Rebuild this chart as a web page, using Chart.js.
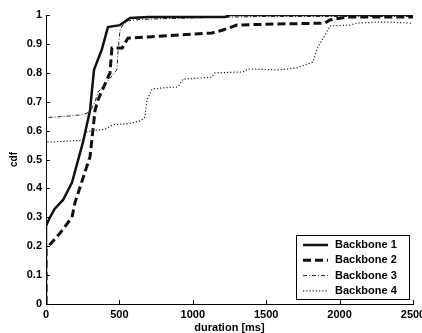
<!DOCTYPE html>
<html>
<head>
<meta charset="utf-8">
<style>
  html, body { margin: 0; padding: 0; background: #fff; overflow: hidden; }
  #wrap { width: 440px; height: 333px; }
</style>
<script src="https://cdn.jsdelivr.net/npm/chart.js@4/dist/chart.umd.min.js"></script>
</head>
<body>
<div id="wrap"><canvas id="cdf-chart" width="440" height="333"></canvas></div>
<script>
// durations in ms and cdf values
const b1Ms  = [0, 0, 27, 60, 116, 177, 252, 300, 327, 380, 422, 504, 572, 700, 1219, 1250, 2500];
const b1Cdf = [0, 0.27, 0.30, 0.33, 0.36, 0.42, 0.56, 0.67, 0.81, 0.88, 0.958, 0.965, 0.99, 0.993, 0.993, 1.0, 1.0];

const b2Ms  = [0, 0, 95, 177, 197, 300, 334, 354, 436, 449, 520, 558, 700, 1130, 1205, 1300, 1500, 1900, 1934, 2050, 2500];
const b2Cdf = [0, 0.19, 0.245, 0.30, 0.35, 0.51, 0.67, 0.706, 0.80, 0.886, 0.886, 0.92, 0.924, 0.938, 0.948, 0.965, 0.968, 0.972, 0.983, 0.993, 0.993];

const b3Ms  = [0, 0, 150, 250, 300, 334, 354, 415, 483, 490, 504, 524, 560, 650, 1000, 1500, 2500];
const b3Cdf = [0, 0.645, 0.65, 0.655, 0.665, 0.70, 0.733, 0.768, 0.81, 0.87, 0.948, 0.965, 0.98, 0.985, 0.99, 0.995, 0.995];

const b4Ms  = [0, 0, 100, 252, 270, 300, 400, 456, 572, 650, 674, 688, 722, 800, 899, 933, 1050, 1130, 1151, 1342, 1376, 1580, 1709, 1818, 1852, 1913, 1934, 2070, 2118, 2295, 2490];
const b4Cdf = [0, 0.56, 0.562, 0.567, 0.595, 0.598, 0.605, 0.62, 0.625, 0.635, 0.647, 0.706, 0.744, 0.748, 0.751, 0.778, 0.782, 0.785, 0.80, 0.803, 0.813, 0.81, 0.817, 0.837, 0.889, 0.941, 0.962, 0.965, 0.972, 0.976, 0.972];

const seriesNames = ['Backbone 1', 'Backbone 2', 'Backbone 3', 'Backbone 4'];
const xTicks = [0, 500, 1000, 1500, 2000, 2500];

const pts = (xs, ys) => xs.map((x, i) => ({ x: x, y: ys[i] }));

const FONT = 'Liberation Sans, Arial, Helvetica, sans-serif';

// little inward ticks like matlab does
const innerTicks = {
    id: 'innerTicks',
    afterDraw(chart) {
        const c = chart.ctx, xs = chart.scales.x, ys = chart.scales.y;
        c.save();
        c.strokeStyle = '#000';
        c.lineWidth = 1;
        c.beginPath();
        xs.ticks.forEach(t => {
            const px = Math.round(xs.getPixelForValue(t.value)) + 0.5;
            c.moveTo(px, xs.top);
            c.lineTo(px, xs.top - 4);
        });
        ys.ticks.forEach(t => {
            const py = Math.round(ys.getPixelForValue(t.value)) + 0.5;
            c.moveTo(ys.right, py);
            c.lineTo(ys.right + 4, py);
        });
        c.stroke();
        c.restore();
    }
};

// legend box in the bottom right corner of the plot
const boxLegend = {
    id: 'boxLegend',
    afterDraw(chart) {
        const c = chart.ctx;
        const x0 = 296, y0 = 235, w = 113, h = 64;
        c.save();
        c.fillStyle = '#fff';
        c.fillRect(x0, y0, w, h);
        c.strokeStyle = '#000';
        c.lineWidth = 1;
        c.strokeRect(x0 + 0.5, y0 + 0.5, w, h);
        c.font = 'bold 11px ' + FONT;
        c.textBaseline = 'middle';
        chart.data.datasets.forEach((ds, i) => {
            const y = y0 + 10 + i * 15.3;
            c.beginPath();
            c.setLineDash(ds.borderDash || []);
            c.lineWidth = ds.borderWidth;
            c.strokeStyle = ds.borderColor;
            c.moveTo(x0 + 7, y);
            c.lineTo(x0 + 32, y);
            c.stroke();
            c.setLineDash([]);
            c.fillStyle = '#000';
            c.fillText(ds.label, x0 + 39, y);
        });
        c.restore();
    }
};

const whiteBg = {
    id: 'whiteBg',
    beforeDraw(chart) {
        const c = chart.ctx;
        c.save();
        c.fillStyle = '#fff';
        c.fillRect(0, 0, chart.width, chart.height);
        c.restore();
    }
};

const ctx = document.getElementById('cdf-chart').getContext('2d');
new Chart(ctx, {
    type: 'line',
    data: {
        datasets: [{
            label: seriesNames[0],
            data: pts(b1Ms, b1Cdf),
            borderColor: '#111',
            borderWidth: 2.5
        }, {
            label: seriesNames[1],
            data: pts(b2Ms, b2Cdf),
            borderColor: '#111',
            borderWidth: 3,
            borderDash: [8, 4]
        }, {
            label: seriesNames[2],
            data: pts(b3Ms, b3Cdf),
            borderColor: '#222',
            borderWidth: 1,
            borderDash: [4, 2, 1, 2]
        }, {
            label: seriesNames[3],
            data: pts(b4Ms, b4Cdf),
            borderColor: '#222',
            borderWidth: 1.2,
            borderDash: [1.2, 2]
        }]
    },
    options: {
        responsive: false,
        animation: false,
        devicePixelRatio: 1,
        layout: { padding: { left: 0, top: 15, right: 27, bottom: 0 } },
        elements: {
            point: { radius: 0 },
            line: { tension: 0, fill: false }
        },
        plugins: {
            legend: { display: false },
            tooltip: { enabled: false }
        },
        scales: {
            x: {
                type: 'linear',
                min: 0,
                max: 2500,
                afterBuildTicks: s => { s.ticks = xTicks.map(v => ({ value: v })); },
                afterFit: s => { s.height = 29; },
                grid: { display: false, drawTicks: false },
                border: { display: true, color: '#000', width: 1 },
                ticks: {
                    padding: 4,
                    color: '#000',
                    maxRotation: 0,
                    callback: v => String(v),
                    font: { family: FONT, size: 11, weight: 'bold' }
                },
                title: {
                    display: true,
                    text: 'duration [ms]',
                    color: '#000',
                    padding: { top: 0, bottom: 0 },
                    font: { family: FONT, size: 11, weight: 'bold', lineHeight: 1 }
                }
            },
            y: {
                min: 0,
                max: 1,
                afterFit: s => { s.width = 46; },
                grid: { display: false, drawTicks: false },
                border: { display: true, color: '#000', width: 1 },
                ticks: {
                    stepSize: 0.1,
                    padding: 4,
                    color: '#000',
                    callback: v => String(Math.round(v * 10) / 10),
                    font: { family: FONT, size: 11, weight: 'bold' }
                },
                title: {
                    display: true,
                    text: 'cdf',
                    color: '#000',
                    padding: { top: 9, bottom: 0 },
                    font: { family: FONT, size: 10, weight: 'bold', lineHeight: 1 }
                }
            }
        }
    },
    plugins: [whiteBg, innerTicks, boxLegend]
});
</script>
</body>
</html>
